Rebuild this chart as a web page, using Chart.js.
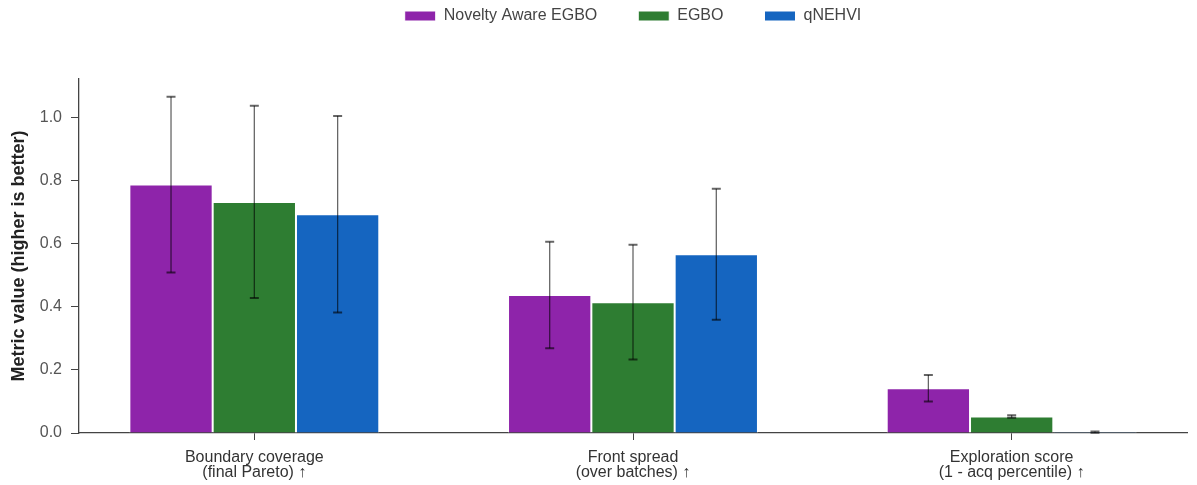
<!DOCTYPE html>
<html>
<head>
<meta charset="utf-8">
<script src="https://cdn.jsdelivr.net/npm/chart.js@4.4.1/dist/chart.umd.min.js"></script>
<style>
  html, body { margin: 0; padding: 0; background: #fff; }
  #wrap { width: 1197px; height: 485px; }
</style>
</head>
<body>
<div id="wrap"><canvas id="myChart"></canvas></div>
<script>
// categories (x positions 0,1,2)
const categories = [
    ["Boundary coverage", "(final Pareto) \u2191"],
    ["Front spread", "(over batches) \u2191"],
    ["Exploration score", "(1 - acq percentile) \u2191"]
];
const seriesNames = ["Novelty Aware EGBO", "EGBO", "qNEHVI"];

const noveltyMean = [0.788, 0.438, 0.142];
const noveltyErr  = [0.279, 0.169, 0.042];
const egboMean    = [0.733, 0.415, 0.052];
const egboErr     = [0.305, 0.182, 0.004];
const qnehviMean  = [0.694, 0.567, 0.003];
const qnehviErr   = [0.312, 0.208, 0.002];

const yTicks = [0, 0.2, 0.4, 0.6, 0.8, 1.0];

const FONT = "'Liberation Sans', Arial, sans-serif";

const toPoints = arr => arr.map((v, i) => ({ x: i, y: v }));

const errorBars = {
    id: 'errorBars',
    afterDatasetsDraw(chart) {
        const ctx = chart.ctx;
        const yScale = chart.scales.y;
        ctx.save();
        chart.data.datasets.forEach((ds, di) => {
            const meta = chart.getDatasetMeta(di);
            meta.data.forEach((bar, i) => {
                const v = ds.data[i].y, e = ds.err[i];
                const top = yScale.getPixelForValue(v + e);
                const bot = yScale.getPixelForValue(v - e);
                ctx.strokeStyle = 'rgba(0,0,0,0.6)';
                ctx.lineWidth = 1.3;
                ctx.beginPath();
                ctx.moveTo(bar.x, top); ctx.lineTo(bar.x, bot);
                ctx.stroke();
                ctx.lineWidth = 2;
                ctx.beginPath();
                ctx.moveTo(bar.x - 4.5, top); ctx.lineTo(bar.x + 4.5, top);
                ctx.moveTo(bar.x - 4.5, bot); ctx.lineTo(bar.x + 4.5, bot);
                ctx.stroke();
            });
        });
        ctx.restore();
    }
};

const config = {
    type: 'bar',
    data: {
        datasets: [
            { label: seriesNames[0], data: toPoints(noveltyMean), err: noveltyErr, backgroundColor: '#8e24aa' },
            { label: seriesNames[1], data: toPoints(egboMean), err: egboErr, backgroundColor: '#2e7d32' },
            { label: seriesNames[2], data: toPoints(qnehviMean), err: qnehviErr, backgroundColor: '#1565c0' }
        ]
    },
    options: {
        responsive: true,
        maintainAspectRatio: false,
        animation: false,
        datasets: {
            bar: { categoryPercentage: 0.66, barPercentage: 1.0, borderColor: '#ffffff', borderWidth: 1 }
        },
        layout: { padding: { left: 0, right: 10, top: -33, bottom: 0 } },
        plugins: {
            tooltip: { enabled: false },
            legend: {
                position: 'top',
                fullSize: false,
                labels: { boxWidth: 31, boxHeight: 10, padding: 41, color: '#444', font: { family: FONT, size: 16 } }
            },
            // empty spacer between the legend and the plot
            subtitle: { display: true, text: '', weight: 500, font: { size: 10, lineHeight: 1 }, padding: { top: 35, bottom: 0 } }
        },
        scales: {
            x: {
                type: 'linear',
                min: -0.463,
                max: 2.463,
                offset: false,
                grid: { offset: false, drawOnChartArea: false, drawTicks: true, tickLength: 7, tickColor: '#444' },
                border: { display: true, color: '#444', width: 1.3 },
                afterBuildTicks: s => { s.ticks = categories.map((c, i) => ({ value: i })); },
                afterFit: s => { s.height = 52; },
                ticks: {
                    color: '#333',
                    font: { family: FONT, size: 16, lineHeight: 0.95 },
                    maxRotation: 0,
                    autoSkip: false,
                    padding: 10,
                    callback: v => categories[v] || ''
                }
            },
            y: {
                min: 0,
                max: 1.123,
                grid: { drawOnChartArea: false, drawTicks: true, tickLength: 8, tickColor: '#444' },
                border: { display: true, color: '#444', width: 1.3 },
                afterBuildTicks: s => { s.ticks = yTicks.map(v => ({ value: v })); },
                afterFit: s => { s.width = 79; },
                ticks: {
                    color: '#555',
                    font: { family: FONT, size: 16 },
                    padding: 9,
                    callback: v => v.toFixed(1)
                },
                title: {
                    display: true,
                    text: 'Metric value (higher is better)',
                    color: '#222',
                    font: { family: FONT, size: 18, weight: 'bold' },
                    padding: { top: 8, bottom: 0 }
                }
            }
        }
    },
    plugins: [errorBars]
};

new Chart(document.getElementById('myChart').getContext('2d'), config);
</script>
</body>
</html>
